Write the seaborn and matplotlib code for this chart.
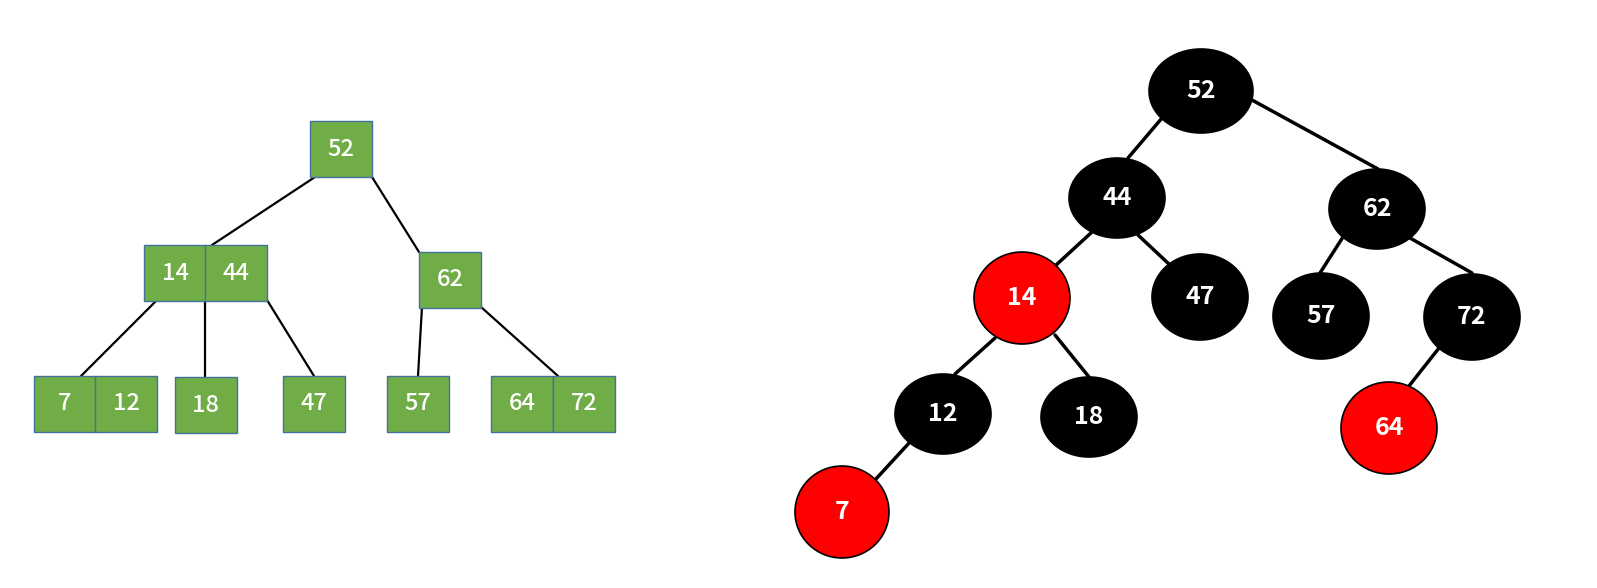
import matplotlib
matplotlib.use("Agg")
import matplotlib.pyplot as plt
from matplotlib.patches import Rectangle, Ellipse
import seaborn as sns

sns.set_theme(style="white")
plt.rcParams['font.family'] = ['Noto Sans CJK JP', 'DejaVu Sans']

# Left 2-3 tree: key labels, box left x, top y
box_labels = ["52", "14", "44", "62", "7", "12", "18", "47", "57", "64", "72"]
box_x = [310, 144, 205, 419, 34, 95, 175, 283, 387, 491, 553]
box_y = [121, 245, 245, 252, 376, 376, 377, 376, 376, 376, 376]
box_w, box_h = 62, 56
box_edges = [((315, 177), (212, 245)), ((372, 177), (419, 252)),
             ((157, 300), (81, 376)), ((205, 300), (205, 377)),
             ((267, 300), (314, 376)), ((422, 307), (418, 376)),
             ((481, 307), (558, 376))]

# Right red-black tree
rb_labels = ["52", "44", "62", "14", "47", "57", "72", "12", "18", "7", "64"]
rb_cx = [1201, 1117, 1377, 1022, 1200, 1321, 1472, 943, 1089, 842, 1389]
rb_cy = [91, 198, 209, 298, 297, 316, 317, 414, 417, 512, 428]
rb_rx = [52, 48, 48, 48, 48, 48, 48, 48, 48, 47, 48]
rb_ry = [42, 40, 40, 46, 43, 43, 43, 40, 40, 46, 46]
rb_red = [False, False, False, True, False, False, False, False, False, True, True]
rb_edges = [((1162, 118), (1128, 158)), ((1252, 100), (1378, 169)),
            ((1092, 232), (1055, 266)), ((1138, 235), (1170, 265)),
            ((1343, 237), (1320, 273)), ((1410, 238), (1472, 273)),
            ((995, 338), (955, 374)), ((1055, 335), (1089, 377)),
            ((910, 442), (875, 480)), ((1439, 348), (1409, 386))]

fig = plt.figure(figsize=(15.97, 5.88), dpi=100)
ax = fig.add_axes([0, 0, 1, 1])
ax.set_xlim(0, 1597)
ax.set_ylim(588, 0)
ax.axis("off")

for (a, b) in box_edges:
    ax.plot([a[0], b[0]], [a[1], b[1]], color="black", lw=1.6, zorder=1)
for lab, x, y in zip(box_labels, box_x, box_y):
    ax.add_patch(Rectangle((x, y), box_w, box_h, facecolor="#70AD47",
                           edgecolor="#41719C", lw=1, zorder=2))
    ax.text(x + box_w / 2, y + box_h / 2, lab, color="white", fontsize=17,
            fontweight="medium", ha="center", va="center", zorder=3)

for (a, b) in rb_edges:
    ax.plot([a[0], b[0]], [a[1], b[1]], color="black", lw=2.5, zorder=1)
for lab, cx, cy, rx, ry, red in zip(rb_labels, rb_cx, rb_cy, rb_rx, rb_ry, rb_red):
    ax.add_patch(Ellipse((cx, cy), 2 * rx, 2 * ry,
                         facecolor="#FF0000" if red else "black",
                         edgecolor="black", lw=1.2, zorder=2))
    ax.text(cx, cy, lab, color="white", fontsize=18, fontweight="bold",
            ha="center", va="center", zorder=3)

fig.savefig("out.png", dpi=100)
